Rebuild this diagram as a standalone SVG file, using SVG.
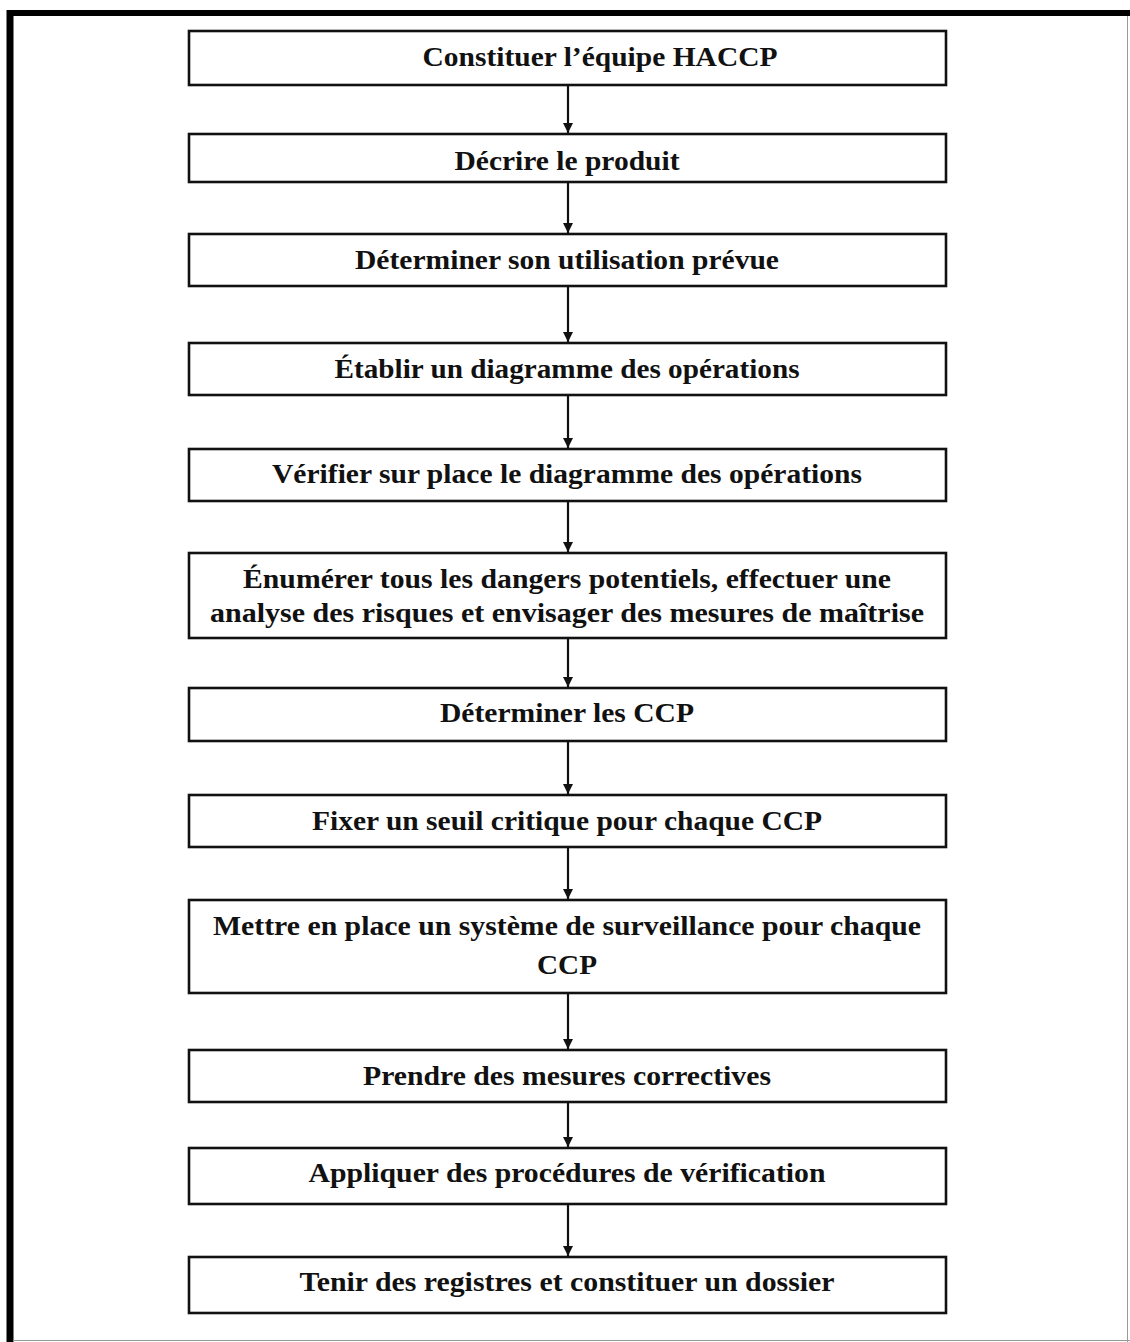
<svg xmlns="http://www.w3.org/2000/svg" width="1130" height="1342" viewBox="0 0 1130 1342">
<style>
.box{fill:#fff;stroke:#111;stroke-width:2.6}
.t{font-family:"Liberation Serif","Times New Roman",serif;font-weight:bold;font-size:27px;fill:#111;text-anchor:middle}
.c{stroke:#111;stroke-width:2.2;fill:none;marker-end:url(#ah)}
</style>
<defs>
<marker id="ah" viewBox="0 0 10 10" refX="10" refY="5" markerWidth="10" markerHeight="10" markerUnits="userSpaceOnUse" orient="auto">
<path d="M0,0 L10,5 L0,10 Z" fill="#111"/>
</marker>
</defs>
<rect x="0" y="0" width="1130" height="1342" fill="#fff"/>
<g id="frame">
<line x1="10" y1="10" x2="10" y2="1342" stroke="#000" stroke-width="7"/>
<line x1="7" y1="13" x2="1130" y2="13" stroke="#000" stroke-width="6"/>
<line x1="1127.5" y1="16" x2="1127.5" y2="1342" stroke="#999" stroke-width="1"/>
<line x1="13" y1="1340.5" x2="1130" y2="1340.5" stroke="#999" stroke-width="1"/>
</g>
<g id="connectors">
<line class="c" x1="568" y1="85" x2="568" y2="133"/>
<line class="c" x1="568" y1="182" x2="568" y2="233"/>
<line class="c" x1="568" y1="286" x2="568" y2="342"/>
<line class="c" x1="568" y1="395" x2="568" y2="448"/>
<line class="c" x1="568" y1="501" x2="568" y2="552"/>
<line class="c" x1="568" y1="638" x2="568" y2="687"/>
<line class="c" x1="568" y1="741" x2="568" y2="794"/>
<line class="c" x1="568" y1="847" x2="568" y2="899"/>
<line class="c" x1="568" y1="993" x2="568" y2="1049"/>
<line class="c" x1="568" y1="1102" x2="568" y2="1147"/>
<line class="c" x1="568" y1="1204" x2="568" y2="1256"/>
</g>
<g id="n1"><rect class="box" x="189" y="31" width="757" height="54"/><text class="t" x="600" y="66" textLength="355" lengthAdjust="spacingAndGlyphs">Constituer l’équipe HACCP</text></g>
<g id="n2"><rect class="box" x="189" y="134" width="757" height="48"/><text class="t" x="567" y="170" textLength="225" lengthAdjust="spacingAndGlyphs">Décrire le produit</text></g>
<g id="n3"><rect class="box" x="189" y="234" width="757" height="52"/><text class="t" x="567" y="269" textLength="424" lengthAdjust="spacingAndGlyphs">Déterminer son utilisation prévue</text></g>
<g id="n4"><rect class="box" x="189" y="343" width="757" height="52"/><text class="t" x="567" y="378" textLength="465" lengthAdjust="spacingAndGlyphs">Établir un diagramme des opérations</text></g>
<g id="n5"><rect class="box" x="189" y="449" width="757" height="52"/><text class="t" x="567" y="483" textLength="590" lengthAdjust="spacingAndGlyphs">Vérifier sur place le diagramme des opérations</text></g>
<g id="n6"><rect class="box" x="189" y="553" width="757" height="85"/><text class="t" x="567" y="588" textLength="648" lengthAdjust="spacingAndGlyphs">Énumérer tous les dangers potentiels, effectuer une</text><text class="t" x="567" y="622" textLength="714" lengthAdjust="spacingAndGlyphs">analyse des risques et envisager des mesures de maîtrise</text></g>
<g id="n7"><rect class="box" x="189" y="688" width="757" height="53"/><text class="t" x="567" y="722" textLength="254" lengthAdjust="spacingAndGlyphs">Déterminer les CCP</text></g>
<g id="n8"><rect class="box" x="189" y="795" width="757" height="52"/><text class="t" x="567" y="830" textLength="510" lengthAdjust="spacingAndGlyphs">Fixer un seuil critique pour chaque CCP</text></g>
<g id="n9"><rect class="box" x="189" y="900" width="757" height="93"/><text class="t" x="567" y="935" textLength="708" lengthAdjust="spacingAndGlyphs">Mettre en place un système de surveillance pour chaque</text><text class="t" x="567" y="974" textLength="60" lengthAdjust="spacingAndGlyphs">CCP</text></g>
<g id="n10"><rect class="box" x="189" y="1050" width="757" height="52"/><text class="t" x="567" y="1085" textLength="408" lengthAdjust="spacingAndGlyphs">Prendre des mesures correctives</text></g>
<g id="n11"><rect class="box" x="189" y="1148" width="757" height="56"/><text class="t" x="567" y="1182" textLength="517" lengthAdjust="spacingAndGlyphs">Appliquer des procédures de vérification</text></g>
<g id="n12"><rect class="box" x="189" y="1257" width="757" height="56"/><text class="t" x="567" y="1291" textLength="535" lengthAdjust="spacingAndGlyphs">Tenir des registres et constituer un dossier</text></g>
</svg>
